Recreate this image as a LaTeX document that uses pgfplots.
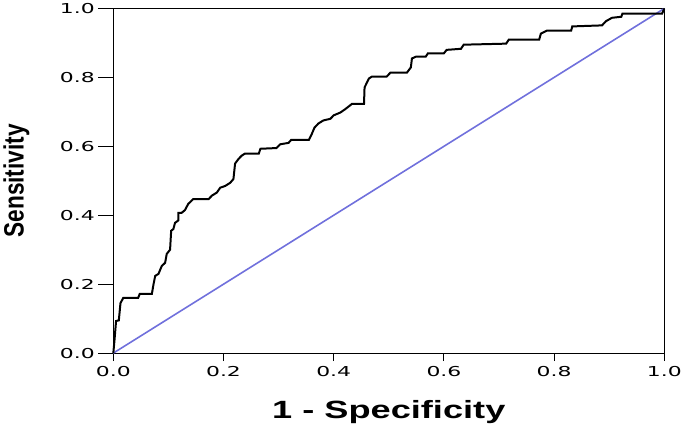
\documentclass[border=0pt]{standalone}
\usepackage{fontspec}
\usepackage{graphicx}
\usepackage{pgfplots}
\pgfplotsset{compat=1.18}
\newfontfamily\tickfont{DejaVu Sans}
\newfontfamily\lblfont{Liberation Sans}
\definecolor{refline}{RGB}{112,112,220}
\newcommand{\rocnum}{\scalebox{1.6}[1]{\pgfmathprintnumber[fixed,fixed zerofill,precision=1]{\tick}}}
\begin{document}
\begin{tikzpicture}
\begin{axis}[
    scale only axis,
    width=550bp, height=344bp,
    xmin=0, xmax=1, ymin=0, ymax=1,
    xtick={0,0.2,0.4,0.6,0.8,1.0},
    ytick={0,0.2,0.4,0.6,0.8,1.0},
    tick align=outside,
    xtick pos=bottom, ytick pos=left,
    major tick length=8bp,
    tick style={black, line width=1pt},
    axis line style={line width=1.2pt},
    /pgf/number format/assume math mode=true,
    xticklabel={\rocnum}, yticklabel={\rocnum},
    ticklabel style={font=\tickfont\fontsize{13.7}{15}\selectfont},
    yticklabel style={xshift=-7bp},
    xticklabel style={yshift=-2bp},
    xlabel={\scalebox{1.45}[1]{1 - Specificity}},
    ylabel={\scalebox{0.81}[1]{Sensitivity}},
    xlabel style={font=\lblfont\bfseries\fontsize{25}{28}\selectfont,
      at={(axis description cs:0.5,-0.189)}, anchor=base},
    ylabel style={font=\lblfont\bfseries\fontsize{28}{30}\selectfont,
      at={(axis description cs:-0.176,0.5)}, anchor=center},
    clip=false,
]
% tick marks as short segments: 8px below the x axis, 15px left of the y axis
\addplot[black, line width=1.1pt, forget plot, unbounded coords=jump] coordinates {
(0,0) (0,-0.023) (nan,nan) (0.2,0) (0.2,-0.023) (nan,nan)
(0.4,0) (0.4,-0.023) (nan,nan) (0.6,0) (0.6,-0.023) (nan,nan)
(0.8,0) (0.8,-0.023) (nan,nan) (1,0) (1,-0.023) (nan,nan)
(0,0) (-0.027,0) (nan,nan) (0,0.2) (-0.027,0.2) (nan,nan)
(0,0.4) (-0.027,0.4) (nan,nan) (0,0.6) (-0.027,0.6) (nan,nan)
(0,0.8) (-0.027,0.8) (nan,nan) (0,1) (-0.027,1)
};
\addplot[refline, line width=1.6pt] coordinates {(0,0) (1,1)};
\addplot[black, line width=2pt] coordinates {
(0,0) (0.002,0.035) (0.005,0.093) (0.01,0.095) (0.013,0.145) (0.018,0.16)
(0.045,0.16) (0.048,0.172) (0.07,0.172) (0.073,0.20) (0.076,0.224)
(0.082,0.23) (0.088,0.253) (0.094,0.262) (0.097,0.288) (0.103,0.30)
(0.105,0.355) (0.109,0.36) (0.112,0.378) (0.118,0.385) (0.118,0.407)
(0.124,0.407) (0.13,0.415) (0.136,0.433) (0.145,0.447) (0.173,0.447)
(0.179,0.457) (0.188,0.466) (0.194,0.48) (0.203,0.485) (0.212,0.494)
(0.218,0.505) (0.221,0.55) (0.227,0.563) (0.233,0.573) (0.239,0.579)
(0.264,0.579) (0.267,0.593) (0.296,0.595) (0.303,0.606) (0.318,0.61)
(0.323,0.619) (0.355,0.619) (0.36,0.635) (0.365,0.654) (0.372,0.666)
(0.381,0.675) (0.394,0.68) (0.4,0.69) (0.412,0.698) (0.421,0.708)
(0.433,0.723) (0.455,0.723) (0.456,0.771) (0.464,0.797) (0.469,0.802)
(0.496,0.802) (0.503,0.814) (0.533,0.814) (0.54,0.829) (0.542,0.855)
(0.549,0.86) (0.567,0.86) (0.571,0.87) (0.6,0.87) (0.605,0.88)
(0.631,0.883) (0.636,0.895) (0.713,0.898) (0.718,0.91) (0.773,0.91)
(0.776,0.927) (0.787,0.936) (0.831,0.936) (0.833,0.948) (0.887,0.951)
(0.894,0.963) (0.905,0.973) (0.922,0.976) (0.924,0.985) (0.996,0.985)
(1,1)
};
\end{axis}
\end{tikzpicture}
\end{document}
